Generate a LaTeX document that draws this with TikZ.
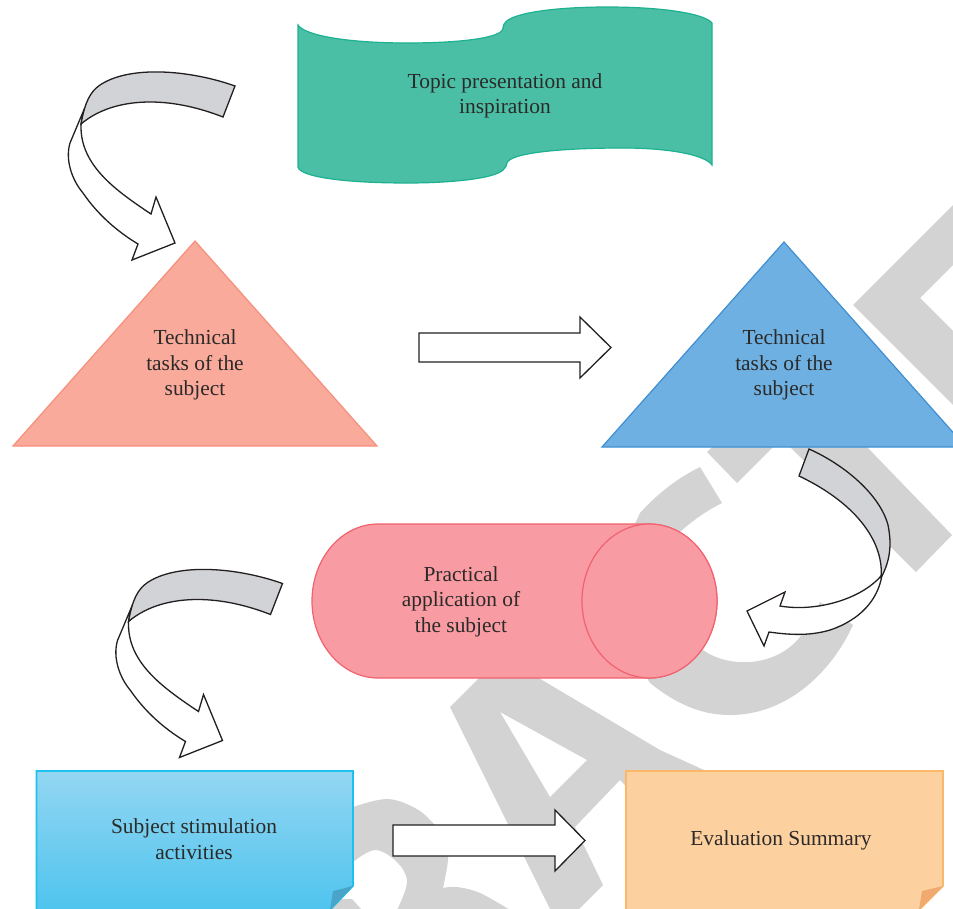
\documentclass[tikz,border=0pt]{standalone}
\usepackage{fontspec}
\setmainfont{Liberation Serif}
\definecolor{wm}{HTML}{D3D3D3}
\definecolor{inkline}{HTML}{231F20}
\definecolor{txt}{HTML}{2B2A29}
\definecolor{bandgray}{HTML}{D1D3D6}
\definecolor{tealf}{HTML}{4ABFA6}\definecolor{teald}{HTML}{1DB192}
\definecolor{salf}{HTML}{F9AA9B}\definecolor{sald}{HTML}{F68F7C}
\definecolor{bluef}{HTML}{6EB0E2}\definecolor{blued}{HTML}{3F8FD2}
\definecolor{pinkf}{HTML}{F89BA2}\definecolor{pinkd}{HTML}{F0626F}
\definecolor{skytop}{HTML}{93D6F2}\definecolor{skybot}{HTML}{4FC4EE}\definecolor{skyd}{HTML}{1FC0EE}\definecolor{skyfold}{HTML}{4AA3C9}
\definecolor{orf}{HTML}{FDD0A0}\definecolor{ord}{HTML}{FBB868}\definecolor{orfold}{HTML}{F0A96E}
\tikzset{
  mark wm/.style={fill=wm,draw=none},
  blockline/.style={draw=inkline,line width=1.3pt,line join=miter},
  label text/.style={text=txt,align=center,inner sep=0pt,font=\fontsize{21.4}{25.5}\selectfont},
  smoothly/.style={smooth,tension=.6},
  bentarrow/.pic={
    \path[blockline,fill=white]
      (83,112) -- (70,143) .. controls (65,160) and (72,180) .. (83,193)
      .. controls (98,215) and (118,232) .. (138,244)
      -- (132,260) -- (175,243) -- (156,197) -- (151,214)
      .. controls (115,190) and (80,165) .. (81,125) -- cycle;
    \path[blockline,fill=bandgray]
      (235,86) .. controls (190,70) and (130,65) .. (100,85)
      .. controls (90,92) and (85,102) .. (81,124)
      .. controls (100,108) and (125,102) .. (150,102)
      .. controls (175,102) and (200,108) .. (223,117) -- cycle;
  }
}
\begin{document}
\begin{tikzpicture}[x=1pt,y=-1pt]
\useasboundingbox (0,0) rectangle (953,908);
\clip (0,0) rectangle (953,908);
% watermark letters
\path[mark wm,even odd rule]
  (330,815) -- plot[smoothly] coordinates {(353,807) (387,799) (415,808) (433,823) (446,842) (448,860) (443,888)}
  -- plot[smoothly] coordinates {(443,888) (457,887) (480,893) (510,910)} -- (330,910) -- cycle
  (330,880) -- plot[smoothly] coordinates {(353,862) (375,850) (397,862) (407,882) (397,910)} -- (362,910) -- (352,899) -- (330,899) -- cycle;
\path[mark wm,even odd rule]
  (450,707) -- (480,677) -- (537,677) -- (660,750) -- (715,775) -- (700,830) -- (626,786) -- (620,780)
  -- (575,827) -- (603,885) -- (575,913) -- (552,913) -- cycle
  (500,712) -- (587,760) -- (550,797) -- cycle;
\path[mark wm]
  (700,467) -- (722,503) .. controls (708,510) and (693,520) .. (680,532)
  -- (640,600) -- (703,650) .. controls (728,668) and (775,668) .. (800,637)
  .. controls (808,628) and (815,615) .. (820,602)
  -- (853,625) .. controls (830,675) and (785,715) .. (730,715)
  .. controls (700,715) and (675,703) .. (650,683)
  -- (600,600) -- (640,513) .. controls (658,493) and (678,478) .. (700,467) -- cycle;
\path[mark wm]
  (707,452) -- (780,380) -- (867,447) -- (952,535) -- (916,572) -- (790,447) -- (773,447) -- (737,483) -- cycle;
\path[mark wm]
  (853,305) -- (960,198) -- (960,258) -- (920,298) -- (960,338) -- (960,412) -- cycle;
% banner
\path[draw=teald,fill=tealf,line width=1.2pt]
  (298,25) .. controls (305,36) and (350,43) .. (407,43)
  .. controls (460,43) and (503,38) .. (503,28)
  .. controls (503,25) and (504,24) .. (505,23)
  .. controls (510,14) and (550,7) .. (607,7)
  .. controls (665,7) and (705,14) .. (712,23)
  -- (712,165)
  .. controls (705,155) and (670,148) .. (623,148)
  .. controls (560,148) and (510,153) .. (507,163)
  .. controls (507,166) and (505,168) .. (503,170)
  .. controls (495,178) and (455,183) .. (407,183)
  .. controls (345,183) and (300,177) .. (298,167) -- cycle;
\node[label text] (topic) at (505,96) {Topic presentation and\\inspiration};
% triangles
\path[draw=sald,fill=salf,line width=1.2pt] (195,241) -- (377,446) -- (13,446) -- cycle;
\node[label text] (taskleft) at (195,365) {Technical\\tasks of the\\subject};
\path[draw=blued,fill=bluef,line width=1.2pt] (784,242) -- (966,447) -- (602,447) -- cycle;
\node[label text] (taskright) at (784,365) {Technical\\tasks of the\\subject};
% cylinder
\path[draw=pinkd,fill=pinkf,line width=1.2pt]
  (378,524) -- (649,524) .. controls (686.5,524) and (717,558.5) .. (717,601)
  .. controls (717,643.5) and (686.5,678) .. (649,678) -- (378,678)
  .. controls (341.5,678) and (312,643.5) .. (312,601)
  .. controls (312,558.5) and (341.5,524) .. (378,524) -- cycle;
\path[draw=pinkd,fill=pinkf,line width=1.2pt] (649.5,601) ellipse[x radius=67.5,y radius=77];
\node[label text] (practical) at (461,601.5) {Practical\\application of\\the subject};
% notes
\path[draw=skyd,line width=1.6pt,top color=skytop,bottom color=skybot]
  (36.5,771) -- (353,771) -- (353,886) -- (330,910) -- (36.5,910) -- cycle;
\path[fill=skyfold,draw=none] (353,886) -- (333,891) -- (330,910) -- cycle;
\node[label text] (stim) at (194,839) {Subject stimulation\\activities};
\path[draw=ord,fill=orf,line width=1.6pt]
  (626,771) -- (943,771) -- (943,886) -- (919,910) -- (626,910) -- cycle;
\path[fill=orfold,draw=none] (943,886) -- (922,891) -- (919,910) -- cycle;
\node[label text] (evaluation) at (781,840) {Evaluation Summary};
% straight block arrows
\path[blockline,fill=white] (419,333) -- (580,333) -- (580,317) -- (611,347.5) -- (580,378) -- (580,362) -- (419,362) -- cycle;
\path[blockline,fill=white] (393,825) -- (555,825) -- (555,810) -- (585,840.5) -- (555,871) -- (555,856) -- (393,856) -- cycle;
% curved block arrows
\pic at (0,0) {bentarrow};
\pic at (47.5,497.5) {bentarrow};
\path[blockline,fill=white]
  (882,575) .. controls (878,600) and (860,620) .. (830,630)
  .. controls (810,636) and (790,635) .. (769,632)
  -- (764,646) -- (747,611) -- (785,592) -- (780,606)
  .. controls (815,612) and (860,600) .. (881,576) -- cycle;
\path[blockline,fill=bandgray]
  (809,449) .. controls (845,465) and (880,495) .. (888,525)
  .. controls (892,545) and (890,560) .. (882,576) -- (881,577)
  .. controls (884,545) and (860,505) .. (799,476) -- cycle;
\end{tikzpicture}
\end{document}
